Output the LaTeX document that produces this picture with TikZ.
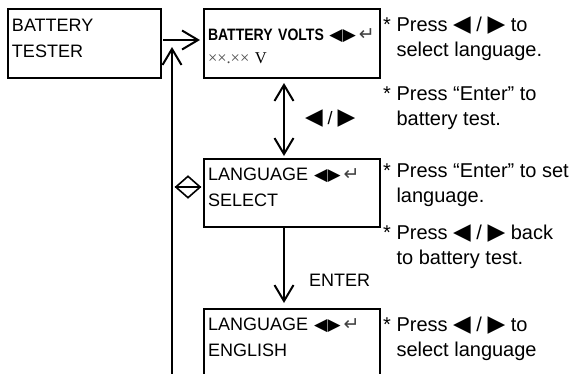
\documentclass[tikz,border=0pt]{standalone}
\usepackage{fontspec}
\setmainfont{Liberation Sans}
\newfontfamily\symfont{DejaVu Sans}
\newfontfamily\narrowfont{Liberation Sans}[FakeStretch=0.85]
\newfontfamily\voltfont{Liberation Serif}
\usetikzlibrary{arrows.meta, positioning, shapes.geometric}

\newcommand{\lkey}{{\symfont\fontsize{23}{23}\selectfont ◀}}
\newcommand{\rkey}{{\symfont\fontsize{23}{23}\selectfont ▶}}
\newcommand{\lrkeys}{{\symfont\fontsize{17}{17}\selectfont ◀\kern0.5pt▶}}
\newcommand{\enterkey}{{\symfont\fontsize{19}{19}\selectfont\color{black!75}↵}}

\tikzset{
    screen/.style={draw, line width=2pt, anchor=north west, align=left, inner xsep=4pt, text width=168pt, minimum height=68pt},
    hint/.style={anchor=base west, align=left, inner sep=0pt, font=\fontsize{20}{24.5}\selectfont},
    arr/.style={-{Straight Barb[length=16pt, width=19pt]}, line width=2pt},
    twoway/.style={{Straight Barb[length=16pt, width=19pt]}-{Straight Barb[length=16pt, width=19pt]}, line width=2pt}
}

\begin{document}
\begin{tikzpicture}[x=1pt, y=-1pt, font=\fontsize{18}{26}\selectfont]
    \useasboundingbox (0,0) rectangle (571,373);

    % Screens
    \node[screen, text width=145pt, minimum height=69pt] (tester) at (7,8) {BATTERY\\TESTER\rule[-10pt]{0pt}{10pt}};
    \node[screen, minimum height=69pt, font=\fontsize{16.5}{23}\selectfont] (volts) at (203,8) {\rule{0pt}{18pt}{\narrowfont\bfseries BATTERY VOLTS} \lrkeys\,\enterkey\\{\voltfont\color{black!70}××.××} {\voltfont V}};
    \node[screen] (langsel) at (203,158) {LANGUAGE \lrkeys\,\enterkey\\SELECT\rule[-12pt]{0pt}{12pt}};
    \node[screen] (langeng) at (203,308) {LANGUAGE \lrkeys\,\enterkey\\ENGLISH\rule[-12pt]{0pt}{12pt}};

    % Toggle mark
    \node[diamond, draw, line width=1.6pt, minimum width=25pt, minimum height=22pt, inner sep=0pt] (toggle) at (188,187) {};
    \draw[line width=1.6pt] (toggle.west) -- (toggle.east);

    % Links
    \coordinate (backfoot) at (172,380);
    \coordinate (backtip) at (172,47);
    \draw[arr, shorten <=1pt, shorten >=3pt] ([yshift=3.5pt]tester.east) -- ([yshift=3.5pt]volts.west);
    \draw[arr] (backfoot) -- (backtip);
    \draw[twoway, shorten <=4pt, shorten >=2pt] ([xshift=-8pt]volts.south) -- ([xshift=-8pt]langsel.north)
        node[midway, right=20pt, inner sep=0pt] {\lkey{} / \rkey};
    \draw[arr, shorten >=5pt] ([xshift=-8pt]langsel.south) -- ([xshift=-8pt]langeng.north)
        node[pos=0.65, right=24pt, inner sep=0pt] {ENTER};

    % Hints
    \node[hint] (hint1) at (383,56) {* Press \lkey{} / \rkey{} to\\\phantom{* }select language.};
    \node[hint] (hint2) at (383,125) {* Press “Enter” to\\\phantom{* }battery test.};
    \node[hint] (hint3) at (383,202) {* Press “Enter” to set\\\phantom{* }language.};
    \node[hint] (hint4) at (383,264) {* Press \lkey{} / \rkey{} back\\\phantom{* }to battery test.};
    \node[hint] (hint5) at (383,356) {* Press \lkey{} / \rkey{} to\\\phantom{* }select language};
\end{tikzpicture}
\end{document}
